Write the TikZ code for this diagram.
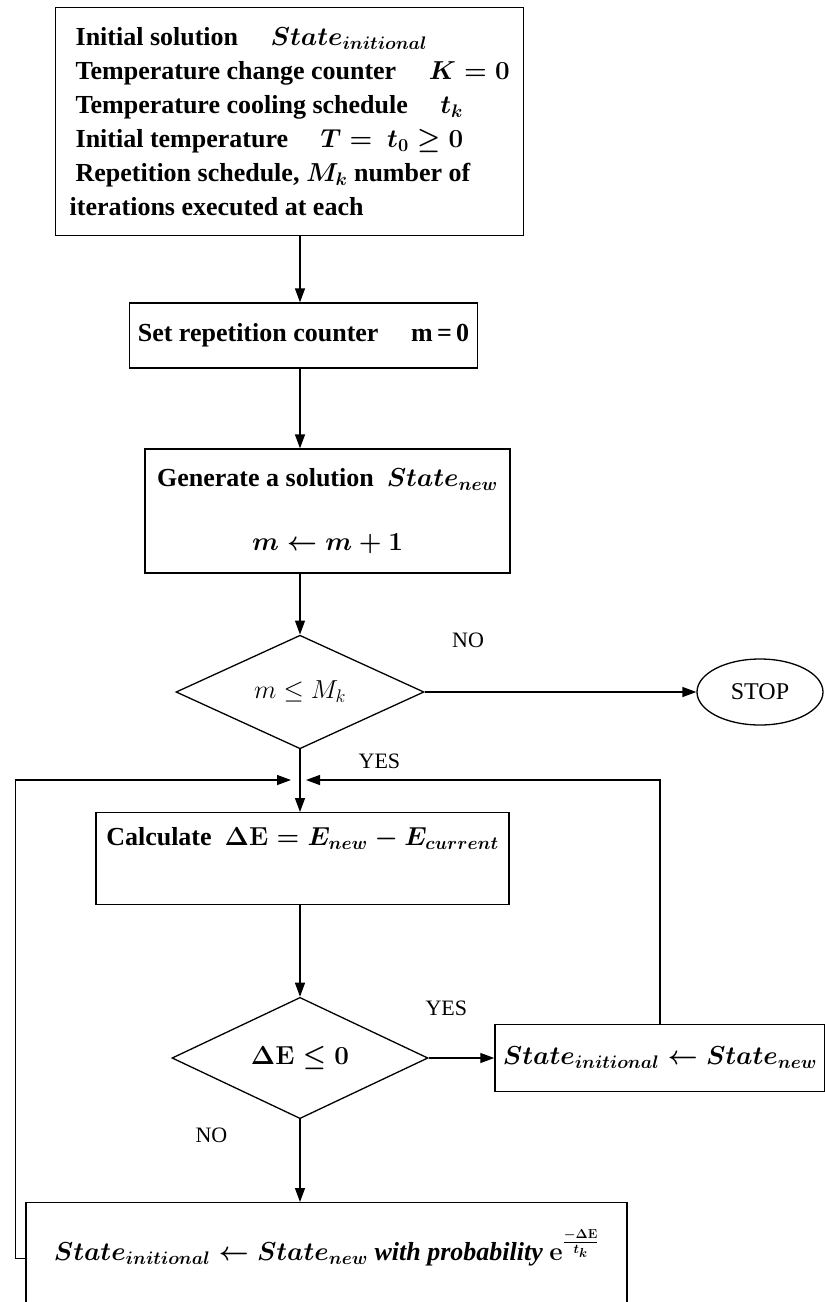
\documentclass[tikz,border=0pt]{standalone}
\usepackage{fix-cm}
\usepackage[no-math]{fontspec}
\setmainfont{Liberation Serif}
\usetikzlibrary{arrows.meta,positioning,shapes.geometric}

\begin{document}
\begin{tikzpicture}[
  x=1pt, y=-1pt,
  >={Triangle[length=14pt,width=10pt]},
  line width=1.3pt,
  font=\fontsize{26}{34}\selectfont\bfseries\boldmath,
  block/.style={rectangle, draw, inner sep=8pt},
  decision/.style={diamond, draw, inner sep=0pt},
  terminal/.style={ellipse, draw, inner sep=0pt, font=\fontsize{24}{30}\selectfont},
  flow/.style={->, line width=1.3pt},
  tag/.style={font=\fontsize{22}{28}\selectfont, inner sep=0pt}
]
  \useasboundingbox (0,0) rectangle (825,1302);
  \clip (0,0) rectangle (825,1302);

  % blocks
  \node[block, align=left, anchor=north west, minimum width=462pt, minimum height=228pt, inner xsep=14pt] (init) at (55,7)
    {\hspace*{6pt}Initial solution \quad $State_{initional}$\\
     \hspace*{6pt}Temperature change counter \quad $K = 0$\\
     \hspace*{6pt}Temperature cooling schedule \quad $t_k$\\
     \hspace*{6pt}Initial temperature \quad $T =\ t_0 \geq 0$\\
     \hspace*{6pt}Repetition schedule, $M_k$\ number of\\
     iterations executed at each};
  \node[block, minimum width=343pt, minimum height=65pt] (setm) at (303.5,335.5)
    {Set repetition counter \quad m\,=\,0};
  \node[block, align=center, minimum width=365pt, minimum height=124pt] (gen) at (327.5,511)
    {Generate a solution \ $State_{new}$\\[30pt] $m \leftarrow m + 1$};
  \node[decision, minimum width=248pt, minimum height=110pt, font=\fontsize{26}{34}\selectfont] (test1) at (300,692)
    {$m \leq M_k$};
  \node[terminal, minimum width=126pt, minimum height=66pt] (stop) at (760,692) {STOP};
  \node[block, anchor=north, minimum width=413pt, text height=25pt, text depth=51pt] (calc) at (302.5,812)
    {Calculate \ $\Delta\mathrm{E} = E_{new} - E_{current}$};
  \node[decision, minimum width=256pt, minimum height=98pt] (test2) at (300,1058)
    {$\Delta\mathrm{E} \leq 0$};
  \node[block, minimum width=310pt, minimum height=67pt] (acc) at (660,1058)
    {$State_{initional} \leftarrow State_{new}$};
  \node[block, anchor=north, minimum width=601pt, text height=50pt, text depth=60pt] (prob) at (326.5,1202)
    {$State_{initional} \leftarrow State_{new}$ \textit{with probability} $\mathbf{e}^{\frac{-\Delta\mathrm{E}}{t_k}}$};
  \coordinate (merge) at (300,780);

  % connectors
  \draw[flow] (test1 |- init.south) -- (test1 |- setm.north);
  \draw[flow] (test1 |- setm.south) -- (test1 |- gen.north);
  \draw[flow] (test1 |- gen.south) -- (test1.north);
  \draw[flow] (test1.east) -- node[tag, pos=0.16, above=44pt] {NO} (stop.west);
  \draw[flow] (test1.south) -- node[tag, pos=0.19, right=58pt] {YES} (test1 |- calc.north);
  \draw[flow] (test1 |- calc.south) -- (test2.north);
  \draw[flow] (test2.east) -- node[tag, pos=0.27, above=42pt] {YES} (acc.west);
  \draw[flow] (test2.south) -- node[tag, pos=0.19, left=72pt] {NO} (test2 |- prob.north);
  \draw[flow] (acc.north) |- ([xshift=6pt]merge);
  \draw[flow] (prob.mid west) -- ++(-10,0) |- ([xshift=-9pt]merge);
\end{tikzpicture}
\end{document}
